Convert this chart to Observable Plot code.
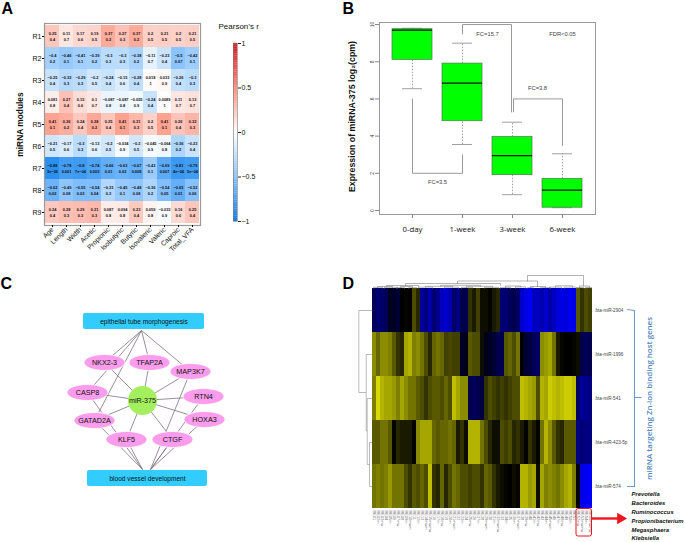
<!DOCTYPE html>
<html>
<head>
<meta charset="utf-8">
<script src="https://cdn.jsdelivr.net/npm/d3@7"></script>
<script src="https://cdn.jsdelivr.net/npm/@observablehq/plot@0.6"></script>
<style>
html,body{margin:0;padding:0;background:#fff;overflow:hidden}
#page{position:relative;width:685px;height:542px;overflow:hidden}
#page>div{position:absolute}
</style>
</head>
<body>
<div id="page"></div>
<script>
// ---------- Panel A data ----------
const moduleNames = ["R1","R2","R3","R4","R5","R6","R7","R8","R9"];
const traitNames = ["Age","Length","Width","Acetic","Propionic","Isobutyric","Butyric","Isovaleric","Valeric","Caproic","Total_VFA"];
const corrR = [
 [0.25,0.11,0.17,0.19,0.37,0.27,0.37,0.2,0.21,0.2,0.21],
 [-0.4,-0.46,-0.41,-0.39,-0.3,-0.3,-0.38,-0.11,-0.23,-0.5,-0.42],
 [-0.25,-0.32,-0.29,-0.2,-0.24,-0.15,-0.28,0.018,0.033,-0.26,-0.3],
 [0.081,0.27,0.15,0.1,-0.087,-0.087,-0.055,-0.24,0.0089,0.11,0.13],
 [0.41,0.36,0.24,0.38,0.25,0.41,0.31,0.2,0.41,0.26,0.32],
 [-0.21,-0.17,-0.3,-0.13,-0.2,-0.034,-0.2,-0.045,-0.064,-0.36,-0.23],
 [-0.88,-0.78,-0.8,-0.74,-0.66,-0.63,-0.67,-0.43,-0.69,-0.81,-0.79],
 [-0.62,-0.49,-0.55,-0.54,-0.33,-0.45,-0.48,-0.36,-0.54,-0.65,-0.52],
 [0.24,0.28,0.29,0.31,0.087,0.094,0.23,0.059,-0.033,0.16,0.25]
];
const corrP = [
 ["0.4","0.7","0.6","0.5","0.2","0.3","0.2","0.5","0.5","0.5","0.5"],
 ["0.2","0.1","0.1","0.2","0.3","0.3","0.2","0.7","0.4","0.07","0.1"],
 ["0.4","0.3","0.3","0.5","0.4","0.6","0.4","1","0.9","0.4","0.3"],
 ["0.8","0.4","0.6","0.7","0.8","0.8","0.9","0.4","1","0.7","0.7"],
 ["0.1","0.2","0.4","0.2","0.4","0.1","0.3","0.5","0.1","0.4","0.3"],
 ["0.5","0.6","0.3","0.6","0.5","0.9","0.5","0.9","0.8","0.2","0.4"],
 ["3e−05","0.001","7e−04","0.003","0.01","0.02","0.008","0.1","0.007","4e−04","5e−04"],
 ["0.02","0.08","0.03","0.04","0.3","0.1","0.08","0.2","0.05","0.01","0.06"],
 ["0.4","0.3","0.3","0.3","0.8","0.8","0.4","0.8","0.9","0.6","0.4"]
];
const legendTicks = [-1,-0.5,0,0.5,1];
const legendColors = ["#0b7fea","#8cc4ff","#ffffff","#ff8d78","#e0141f"];

// ---------- Panel B data ----------
const stages = ["0-day","1-week","3-week","6-week"];
const q1 = [8.1,4.8,1.9,0.15];
const median = [9.7,6.85,2.95,1.1];
const q3 = [9.75,7.9,3.95,1.7];
const whiskerLow = [6.55,3.55,0.85,0.15];
const whiskerHigh = [9.8,9.0,4.75,3.05];
const bracketId = [0,0,0,0,1,1,1,1,2,2,2,2];
const bracketPos = [1,1,2,2, 2,2,2.98,2.98, 3.02,3.02,4,4];
const bracketVal = [6,2,2,3, 9.5,10,10,5.3, 5.3,6,6,3.5];
const fcLabels = ["FC=3.5","FC=15.7","FC=3.8","FDR<0.05"];
const fcPos = [1.5,2.5,3.5,4];
const fcVal = [1.5,9.46,6.57,9.46];

// ---------- Panel C data ----------
const geneNames = ["NKX2-3","TFAP2A","MAP3K7","CASP8","RTN4","GATAD2A","HOXA3","KLF5","CTGF"];
const geneX = [104,149,190,87,203,94,204,126,172];
const geneY = [362,362,371,392,396,420,419,439,439];
const hubX = 142, hubY = 400;
const termNames = ["epithelial tube morphogenesis","blood vessel development"];
const termX1 = [83,87], termX2 = [204,207], termY1 = [313,470], termY2 = [329,486];
const epithelialGenes = ["NKX2-3","CASP8","GATAD2A","TFAP2A","MAP3K7"];
const bloodLeftGenes = ["CASP8","GATAD2A","KLF5"];
const bloodRightGenes = ["CTGF","MAP3K7","RTN4","HOXA3"];

// ---------- Panel D data ----------
const miRNAs = ["bta-miR-2904","bta-miR-1996","bta-miR-541","bta-miR-423-5p","bta-miR-574"];
const expr2904 = [-.35,-.45,-.4,-.35,-.12,-.15,-.2,0,.02,0,.3,.15,-.6,-.5,-.65,-.45,-.55,-.75,-.8,-.7,-.4,-.5,-.3,-.3,.2,.1,.25,.05,.05,.02,.1,.15,-.45,-.45,-.35,-.3,-.4,-.8,-.9,-.95,-.75,-.75,-.7,-.8,-.65,-.75,-.85,-.9,-.85,-.95,-.9,.35,.2,.3,.25];
const expr1996 = [.55,.4,.55,.55,.5,.35,.2,.15,.65,.7,.5,.55,.45,.3,.15,.4,.45,.4,.25,.28,.25,.25,-.15,-.1,.35,.3,.3,.05,-.1,-.15,-.2,-.3,-.3,.35,.4,.3,.45,-.02,-.2,-.25,-.35,-.4,.55,.6,.65,.45,.1,.02,0,0,.02,.05,-.3,-.35,-.3];
const expr541 = [.5,.85,.7,.65,.65,.6,.5,.65,.55,.45,.45,.35,.3,.2,.3,.35,.35,.3,.4,.3,.75,.65,.55,.55,-.3,-.35,-.3,-.25,.2,.3,.25,.2,.25,.2,.25,.3,.3,.75,.7,.65,.6,.3,.7,.65,.8,.75,.7,.75,.8,.8,.75,-.4,-.6,-.55,-.5];
const expr423 = [.35,.35,.45,.45,.35,.02,.15,.1,.1,.1,.02,.55,.65,.65,.65,.4,.35,.4,.4,.45,.4,.1,.2,.05,.7,.7,.7,.45,.3,.15,.05,.05,.3,.25,.3,.15,.2,.1,.02,.2,.1,.02,.45,.7,.55,.35,.2,.15,.35,.35,.35,-.5,-.45,-.5,-.5];
const expr574 = [.45,.5,.45,.5,.6,.45,.45,.45,.3,.2,.35,.3,.4,.3,.75,.2,.15,.4,.15,.3,.45,.4,.3,.3,.25,.3,.3,.2,.4,.35,.2,.1,.05,.02,0,.05,.02,.7,.7,.6,.65,.05,.65,.5,.55,.5,.45,.55,.65,.7,.5,-.05,-.9,-.95,-1];
const exprRows = [expr2904,expr1996,expr541,expr423,expr574];
const sampleNames = ["RE01","RE02m","RE03mw","RE04","RE05m","RE06","RE07mw","RE08","RE09m","RE10mwm","RE11","RE12m","RE13","RE14mwm","RE15mwmw","RE16","RE17m","RE18mw","RE19","RE20m","RE21mwm","RE22","RE23m","RE24","RE25mw","RE26","RE27m","RE28","RE29mwm","RE30","RE31m","RE32mwmw","RE33","RE34m","RE35","RE36m","RE37mwm","RE38","RE39mw","RE40","RE41m","RE42mw","RE43","RE44m","RE45mwm","RE46","RE47m","RE48mw","RE49","RE50m","RE51","RE52mw","RE53mwmw","RE54m","RE55mwmw"];
const bacteria = ["Prevotella","Bacteroides","Ruminococcus","Propionibacterium","Megasphaera","Klebsiella"];
const bracketLabel = "miRNA targeting Zn-ion binding host genes";
// dendrogram merges: left, right, top, left-foot, right-foot
const topTree = [
 [527,583,275,280.5,285.5],[457,537,280.5,283,286],[405,500,283,285,284.8],[386,418,285,286,286],
 [377,392,286,286.8,286.8],[373,382,286.8,288,288],[384,397,286.8,288,288],[400,412,286,287.2,287.2],
 [396,404,287.2,288,288],[408,416,287.2,288,288],[440,480,284.8,285.8,285.8],[425,452,285.8,286.6,286.6],
 [418,432,286.6,288,288],[444,458,286.6,288,288],[466,492,285.8,286.8,286.8],[461,472,286.8,288,288],
 [484,498,286.8,288,288],[505,520,285.5,286.8,286.4],[500,510,286.8,288,288],[515,525,286.4,288,288],
 [530,545,286,287.2,287.2],[527,533,287.2,288,288],[540,550,287.2,288,288],[555,572,285.3,286.6,286.6],
 [549,561,286.6,288,288],[564,576,286.6,288,288],[579,589,285.5,287,287],[577,583,287,288,288],[585,591,287,288,288]
];
const sideSegX1 = [358.3,358.3,358.3,365.7,365.7,365.7,366.7,366.7,366.7,369,369,369];
const sideSegX2 = [372,358.3,365.7,372,365.7,366.7,372,366.7,369,372,369,372];
const sideSegY1 = [310,310,392,354,354,430,398,398,464,442,442,486];
const sideSegY2 = [310,392,392,354,430,430,398,464,464,442,486,486];

// ---------- Helpers ----------
const FONT = "'Liberation Sans', Arial, sans-serif";
const page = document.getElementById("page");
function place(plot, left, top){
  const d = document.createElement("div");
  d.style.left = left + "px"; d.style.top = top + "px";
  plot.style.background = "transparent";
  d.appendChild(plot); page.appendChild(d);
}
const fmtMinus = v => String(v).replace("-", "−");
const corrColor = {type:"linear", domain:legendTicks, range:legendColors, clamp:true};

// ---------- Panel A ----------
const corrCells = corrR.flatMap((row,i) => row.map((r,j) => ({
  module:moduleNames[i], trait:traitNames[j], r, label:fmtMinus(r) + "\n" + corrP[i][j]
})));
place(Plot.plot({
  width:270, height:270, marginLeft:44, marginRight:70, marginTop:23, marginBottom:45,
  style:{fontFamily:FONT},
  x:{domain:traitNames, padding:0, label:null},
  y:{domain:moduleNames, padding:0, label:null},
  color:corrColor,
  marks:[
    Plot.cell(corrCells,{x:"trait",y:"module",fill:"r"}),
    Plot.text(corrCells,{x:"trait",y:"module",text:"label",fontSize:3.9,lineHeight:1.45,fill:"#111",fontWeight:600}),
    Plot.frame({stroke:"#999",strokeWidth:1.2}),
    Plot.axisX({tickRotate:-45,fontSize:6.8,tickSize:2,tickPadding:1,label:null,fill:"#111"}),
    Plot.axisY({fontSize:7,tickSize:2,tickPadding:1,label:null,fill:"#111"})
  ]
}),0,0);

// colour bar
const barSteps = d3.range(-1,1,0.02);
place(Plot.plot({
  width:60, height:240, marginLeft:8, marginRight:48, marginTop:43, marginBottom:19,
  style:{fontFamily:FONT},
  x:{domain:[0,1],axis:null},
  y:{domain:[-1,1],label:null},
  color:corrColor,
  marks:[
    Plot.rect(barSteps,{x1:0,x2:1,y1:d=>d,y2:d=>d+0.022,fill:d=>d+0.01}),
    Plot.frame({stroke:"#777",strokeWidth:0.6}),
    Plot.axisY({anchor:"right",ticks:legendTicks,tickFormat:fmtMinus,fontSize:7,tickSize:3,tickPadding:1,label:null,fill:"#111",stroke:"#222"})
  ]
}),225,0);

// ---------- Panel B ----------
const boxes = stages.map((s,i) => ({pos:i+1,q1:q1[i],med:median[i],q3:q3[i],lo:whiskerLow[i],hi:whiskerHigh[i]}));
const bracketPts = bracketId.map((id,i) => ({id,pos:bracketPos[i],val:bracketVal[i]}));
const fcRows = fcLabels.map((t,i) => ({t,pos:fcPos[i],val:fcVal[i]}));
place(Plot.plot({
  width:300, height:242, marginLeft:39, marginRight:45, marginTop:22, marginBottom:28,
  style:{fontFamily:FONT},
  x:{type:"linear",domain:[0.34,4.66],label:null},
  y:{domain:[-0.215,10.11],label:null},
  marks:[
    Plot.ruleX(boxes,{x:"pos",y1:"lo",y2:"q1",stroke:"#666",strokeWidth:0.6,strokeDasharray:"1.5,1.5"}),
    Plot.ruleX(boxes,{x:"pos",y1:"q3",y2:"hi",stroke:"#666",strokeWidth:0.6,strokeDasharray:"1.5,1.5"}),
    Plot.ruleY(boxes,{y:"lo",x1:d=>d.pos-0.2,x2:d=>d.pos+0.2,stroke:"#888",strokeWidth:0.8}),
    Plot.ruleY(boxes,{y:"hi",x1:d=>d.pos-0.2,x2:d=>d.pos+0.2,stroke:"#888",strokeWidth:0.8}),
    Plot.rect(boxes,{x1:d=>d.pos-0.4,x2:d=>d.pos+0.4,y1:"q1",y2:"q3",fill:"#00ff00",stroke:"#4a7a4a",strokeWidth:0.7}),
    Plot.ruleY(boxes,{y:"med",x1:d=>d.pos-0.4,x2:d=>d.pos+0.4,stroke:"#111",strokeWidth:1.2}),
    Plot.line(bracketPts,{x:"pos",y:"val",z:"id",stroke:"#999",strokeWidth:1,curve:"linear"}),
    Plot.text(fcRows,{x:"pos",y:"val",text:"t",fontSize:5.8,fill:"#444"}),
    Plot.frame({stroke:"#999",strokeWidth:1}),
    Plot.axisY({ticks:[0,2,4,6,8,10],tickRotate:-90,fontSize:5,tickSize:4,tickPadding:2,label:null,fill:"#444",stroke:"#888"}),
    Plot.axisX({ticks:[1,2,3,4],tickFormat:i=>stages[i-1],fontFamily:"'Open Sans'",fontSize:7.8,tickSize:4,tickPadding:8,label:null,fill:"#111",stroke:"#888"})
  ]
}),340,0);

// ---------- Panel D heat map ----------
const exprCells = exprRows.flatMap((row,i) => row.map((v,j) => ({row:miRNAs[i],col:sampleNames[j],v})));
place(Plot.plot({
  width:300, height:262, marginLeft:12, marginRight:68, marginTop:8, marginBottom:34,
  style:{fontFamily:FONT},
  x:{domain:sampleNames,padding:0,label:null,axis:null},
  y:{domain:miRNAs,padding:0,label:null},
  color:{type:"linear",domain:[-1,0,1],range:["#0000ff","#000000","#ffff00"]},
  marks:[
    Plot.cell(exprCells,{x:"col",y:"row",fill:"v"}),
    Plot.axisY({anchor:"right",fontSize:4.6,tickSize:0,tickPadding:3,label:null,fill:"#444"}),
    Plot.text(sampleNames,{x:d=>d,frameAnchor:"bottom",dy:2,rotate:90,textAnchor:"start",lineAnchor:"middle",text:d=>d,fontSize:3.9,fill:"#777"})
  ]
}),360,280);

// ---------- Page-level layer: network, trees, annotations ----------
const ellipse = (rx,ry) => ({draw(c){
  const k = 0.5523;
  c.moveTo(rx,0);
  c.bezierCurveTo(rx,ry*k,rx*k,ry,0,ry);
  c.bezierCurveTo(-rx*k,ry,-rx,ry*k,-rx,0);
  c.bezierCurveTo(-rx,-ry*k,-rx*k,-ry,0,-ry);
  c.bezierCurveTo(rx*k,-ry,rx,-ry*k,rx,0);
  c.closePath();
}});
const genes = geneNames.map((name,i) => ({name,x:geneX[i],y:geneY[i]}));
const geneAt = Object.fromEntries(genes.map(g => [g.name,g]));
const edges = [
  ...genes.map(g => ({a:g,b:{x:hubX,y:hubY}})),
  ...epithelialGenes.map(n => ({a:geneAt[n],b:{x:141,y:330}})),
  ...bloodLeftGenes.map(n => ({a:geneAt[n],b:{x:142,y:469}})),
  ...bloodRightGenes.map(n => ({a:geneAt[n],b:{x:150,y:469}}))
];
const terms = termNames.map((t,i) => ({t,x1:termX1[i],x2:termX2[i],y1:termY1[i],y2:termY2[i]}));
const treeSegs = topTree.flatMap(([l,r,t,fl,fr],i) => [
  {id:i,x:l,y:fl},{id:i,x:l,y:t},{id:i,x:r,y:t},{id:i,x:r,y:fr}
]);
const sideSegs = sideSegX1.map((x,i) => ({x1:x,x2:sideSegX2[i],y1:sideSegY1[i],y2:sideSegY2[i]}));
const bracePts = [{x:627,y:309},{x:634,y:310},{x:634,y:397},{x:634,y:486},{x:627,y:486}];
const letters = [{t:"A",x:1,y:13},{t:"B",x:342,y:13},{t:"C",x:0,y:288},{t:"D",x:342,y:288}];

place(Plot.plot({
  width:685, height:542, margin:0,
  style:{fontFamily:FONT},
  x:{domain:[0,685],range:[0,685],axis:null},
  y:{domain:[0,542],range:[0,542],axis:null},
  marks:[
    Plot.text(letters,{x:"x",y:"y",text:"t",textAnchor:"start",lineAnchor:"bottom",fontSize:16,fontWeight:700,fill:"#000"}),
    Plot.text(["miRNA modules"],{x:20,y:124,text:d=>d,rotate:-90,fontSize:8.4,fontWeight:700,fill:"#111"}),
    Plot.text(["Pearson’s r"],{x:218,y:26,text:d=>d,textAnchor:"start",fontSize:8,fill:"#111"}),
    Plot.text(["Expression of miRNA-375 log₂(cpm)"],{x:352,y:116,text:d=>d,rotate:-90,fontSize:8.8,fontWeight:700,fill:"#111"}),
    // network
    Plot.link(edges,{x1:d=>d.a.x,y1:d=>d.a.y,x2:d=>d.b.x,y2:d=>d.b.y,stroke:"#7f7280",strokeWidth:0.8}),
    Plot.rect(terms,{x1:"x1",x2:"x2",y1:"y1",y2:"y2",fill:"#33ccff",rx:2}),
    Plot.text(terms,{x:d=>(d.x1+d.x2)/2,y:d=>(d.y1+d.y2)/2,text:"t",fontSize:6.6,fill:"#111"}),
    Plot.dot(genes,{x:"x",y:"y",symbol:ellipse(20.5,8),fill:"#fb9cec",stroke:"#fff",strokeWidth:0.8}),
    Plot.text(genes,{x:"x",y:"y",text:"name",fontSize:7.2,fill:"#111"}),
    Plot.dot(["miR-375"],{x:hubX,y:hubY,r:14.5,fill:"#a4ef5e"}),
    Plot.text(["miR-375"],{x:hubX,y:hubY,text:d=>d,fontSize:7.2,fill:"#111"}),
    // dendrograms
    Plot.line(treeSegs,{x:"x",y:"y",z:"id",stroke:"#666",strokeWidth:0.5,curve:"linear"}),
    Plot.link(sideSegs,{x1:"x1",y1:"y1",x2:"x2",y2:"y2",stroke:"#777",strokeWidth:0.5}),
    // sample box, arrow, bracket and notes
    Plot.rect([0],{x1:576,x2:591.5,y1:508.5,y2:536,fill:"none",stroke:"#e8141c",strokeWidth:1,rx:2}),
    Plot.link([0],{x1:591.5,y1:518,x2:618,y2:518,stroke:"#f0141c",strokeWidth:2.4}),
    Plot.dot([0],{x:620,y:518,symbol:"triangle2",rotate:90,r:5.5,fill:"#f0141c"}),
    Plot.line(bracePts,{x:"x",y:"y",stroke:"#6a9bd0",strokeWidth:1.1,curve:"linear"}),
    Plot.link([0],{x1:634,y1:397,x2:641,y2:397,stroke:"#6a9bd0",strokeWidth:1.1}),
    Plot.text([bracketLabel],{x:649,y:398,text:d=>d,rotate:-90,fontFamily:"'Open Sans'",fontSize:7.9,fontWeight:600,fill:"#4f86c0"}),
    Plot.text(bacteria,{x:631,y:(d,i)=>494+i*8.8,text:d=>d,textAnchor:"start",fontFamily:FONT,fontStyle:"italic",fontWeight:700,fontSize:5.9,fill:"#111"})
  ]
}),0,0);
</script>
</body>
</html>
